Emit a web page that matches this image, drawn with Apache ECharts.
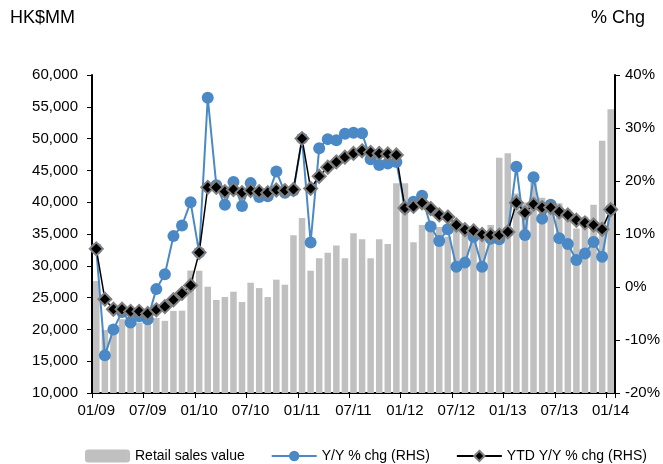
<!DOCTYPE html>
<html>
<head>
<meta charset="utf-8">
<script src="https://cdn.jsdelivr.net/npm/echarts@6/dist/echarts.min.js"></script>
<style>
  html, body { margin: 0; padding: 0; background: #ffffff; }
  #chart { width: 663px; height: 464px; }
</style>
</head>
<body>
<div id="chart"></div>
<script>
// Monthly categories, Jan 2009 - Jan 2014
const months = [
  '01/09','02/09','03/09','04/09','05/09','06/09','07/09','08/09','09/09','10/09','11/09','12/09',
  '01/10','02/10','03/10','04/10','05/10','06/10','07/10','08/10','09/10','10/10','11/10','12/10',
  '01/11','02/11','03/11','04/11','05/11','06/11','07/11','08/11','09/11','10/11','11/11','12/11',
  '01/12','02/12','03/12','04/12','05/12','06/12','07/12','08/12','09/12','10/12','11/12','12/12',
  '01/13','02/13','03/13','04/13','05/13','06/13','07/13','08/13','09/13','10/13','11/13','12/13',
  '01/14'
];

// Retail sales value, HK$MM
const salesValue = [
  27600, 19900, 20650, 21600, 21400, 21060, 22600, 21800, 21350, 22900, 22950, 29250,
  29230, 26710, 24620, 25100, 25930, 24300, 27340, 26500, 25090, 27820, 27030, 34790,
  37510, 29230, 31170, 32060, 33210, 31170, 35100, 34160, 31170, 34160, 33420, 42960,
  42960, 33690, 36410, 35710, 36110, 34570, 36450, 35730, 34130, 35470, 36410, 46990,
  47700, 41350, 39950, 43100, 40700, 40000, 39850, 38600, 35880, 37720, 39600, 49650,
  54600
];

// Y/Y % change (right-hand scale)
const yoyChg = [
  7.2, -12.9, -8.0, -4.7, -6.7, -5.5, -6.1, -0.4, 2.4, 9.6, 11.6, 16.0,
  6.5, 35.7, 19.2, 15.5, 19.8, 15.3, 19.6, 17.0, 17.1, 21.8, 17.8, 18.2,
  28.0, 8.4, 26.2, 27.9, 27.7, 28.9, 29.1, 29.0, 24.1, 23.0, 23.3, 23.6,
  14.9, 16.1, 17.2, 11.4, 8.7, 10.9, 3.8, 4.6, 9.5, 3.8, 9.1, 9.0,
  10.4, 22.7, 9.8, 20.7, 12.9, 15.5, 9.2, 8.1, 5.1, 6.3, 8.5, 5.7,
  14.6
];

// Year-to-date Y/Y % change (right-hand scale)
const ytdChg = [
  7.2, -2.3, -4.2, -4.2, -4.6, -4.6, -5.0, -4.3, -3.7, -2.4, -1.2, 0.3,
  6.5, 18.8, 18.8, 18.0, 18.4, 17.8, 18.2, 18.0, 17.8, 18.3, 18.2, 18.4,
  28.0, 18.6, 20.9, 22.6, 23.6, 24.5, 25.2, 25.7, 25.4, 25.2, 25.1, 24.9,
  14.9, 15.2, 15.9, 14.8, 13.6, 13.2, 11.7, 10.8, 10.6, 9.9, 9.8, 9.8,
  10.4, 15.9, 14.0, 15.6, 15.0, 15.0, 14.2, 13.6, 12.6, 12.1, 11.7, 10.9,
  14.6
];

const FONT = '"Liberation Sans", Arial, sans-serif';
const BLUE = '#4a89c5';
const GREY = '#c0c0c0';

const chart = echarts.init(document.getElementById('chart'), null, { renderer: 'canvas' });

const axisLineStyle = { show: true, onZero: false, lineStyle: { color: '#000', width: 2 } };
const tickStyle = { show: true, inside: false, length: 5, lineStyle: { color: '#000', width: 1 } };
const labelBase = { color: '#000', fontSize: 15, fontFamily: FONT };

chart.setOption({
  animation: false,
  backgroundColor: '#ffffff',
  grid: { left: 92, right: 48, top: 75, bottom: 71, containLabel: false },
  graphic: [
    { type: 'text', left: 10, top: 9, style: { text: 'HK$MM', fontSize: 18, fontFamily: FONT, fill: '#000' } },
    { type: 'text', left: 591, top: 9, style: { text: '% Chg', fontSize: 18, fontFamily: FONT, fill: '#000' } }
  ],
  legend: {
    left: 80,
    top: 444,
    itemWidth: 45,
    itemHeight: 13,
    itemGap: 26,
    textStyle: { color: '#000', fontSize: 14, fontFamily: FONT },
    data: ['Retail sales value', 'Y/Y % chg (RHS)', 'YTD Y/Y % chg (RHS)']
  },
  xAxis: {
    type: 'category',
    data: months,
    boundaryGap: true,
    axisLine: axisLineStyle,
    axisTick: Object.assign({}, tickStyle, { interval: 5 }),
    axisLabel: Object.assign({}, labelBase, { interval: 5, margin: 10 }),
    splitLine: { show: false }
  },
  yAxis: [
    {
      type: 'value',
      min: 10000,
      max: 60000,
      interval: 5000,
      axisLine: axisLineStyle,
      axisTick: tickStyle,
      splitLine: { show: false },
      axisLabel: Object.assign({}, labelBase, {
        margin: 14,
        formatter: v => v.toLocaleString('en-US')
      })
    },
    {
      type: 'value',
      position: 'right',
      min: -20,
      max: 40,
      interval: 10,
      axisLine: axisLineStyle,
      axisTick: tickStyle,
      splitLine: { show: false },
      axisLabel: Object.assign({}, labelBase, { margin: 10, formatter: '{value}%' })
    }
  ],
  series: [
    {
      name: 'Retail sales value',
      type: 'bar',
      yAxisIndex: 0,
      data: salesValue,
      barCategoryGap: '24%',
      itemStyle: { color: GREY }
    },
    {
      name: 'Y/Y % chg (RHS)',
      type: 'line',
      yAxisIndex: 1,
      data: yoyChg,
      symbol: 'circle',
      symbolSize: 12,
      showAllSymbol: true,
      lineStyle: { color: BLUE, width: 2 },
      itemStyle: { color: BLUE }
    },
    {
      name: 'YTD Y/Y % chg (RHS)',
      type: 'line',
      yAxisIndex: 1,
      data: ytdChg,
      symbol: 'diamond',
      symbolSize: 13,
      showAllSymbol: true,
      lineStyle: { color: '#000', width: 1.5 },
      itemStyle: { color: '#000', borderColor: '#7f7f7f', borderWidth: 2 }
    }
  ]
});
</script>
</body>
</html>
